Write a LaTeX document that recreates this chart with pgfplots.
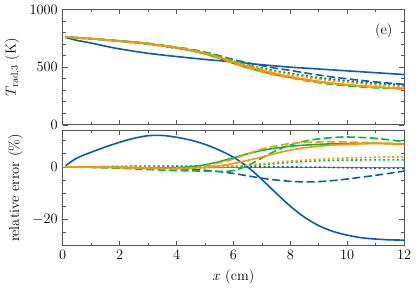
\documentclass[border=0pt]{standalone}
\usepackage{pgfplots}
\usepackage{pgfplotstable}
\pgfplotsset{compat=1.18}
\definecolor{cb}{HTML}{0C5DA5}
\definecolor{cg}{HTML}{00B945}
\definecolor{co}{HTML}{FF9500}
\definecolor{ax}{HTML}{555555}
\pgfplotstableread{
x bs
0.1 758
0.5 732
1 709
1.5 682
2 658
3 620
4 592
5 567
6 545
7 521
8 500
9 484
10 468
11 452
12 436
}\topbs
\pgfplotstableread{
x bd bo gs gd go os od oo
0.1 762 762 762 762 762 762 762 762
1 746 745 747 747 746 747 747 746
2 726 724 726 729 726 726 727 725
3 703 698 703 707 701 703 704 701
4 670 663 667 674 667 669 670 667
4.5 651 643 644 655 647 648 648 647
5 628 618 615 630 622 621 618 621
5.5 599 587 576 598 589 586 579 588
6 566 551 533 560 552 545 535 550
6.5 538 519 494 517 518 507 494 516
7 513 492 461 475 488 473 459 486
7.5 490 467 433 438 461 443 430 459
8 472 447 412 409 439 418 407 437
8.5 451 427 392 385 418 396 387 416
9 432 409 374 365 400 377 370 397
9.5 414 395 359 350 384 361 356 381
10 399 382 347 338 371 348 345 368
11 372 362 328 321 350 328 327 347
12 351 347 315 312 336 315 315 332
}\toprest
\pgfplotstableread{
x bs
0.1 0.5
0.5 3.4
1 5.6
1.5 7.6
2 9.4
2.5 10.9
3 11.9
3.5 12.0
4 11.3
4.5 10.2
5 8.6
5.5 6.4
6 3.7
6.5 0
7 -4.8
7.5 -10.0
8 -15.0
8.5 -19.2
9 -22.4
9.5 -24.6
10 -26.0
10.5 -27.0
11 -27.5
11.5 -27.8
12 -27.9
}\botbs
\pgfplotstableread{
x bd bo gs gd go os od oo
0.1 0 0 0 0 0 0 0 0
1 0 0.1 -0.1 -0.2 0 -0.1 -0.1 0
2 -0.2 0.2 -0.2 -0.5 -0.1 -0.2 -0.3 0
3 -0.4 0.3 -0.4 -1.0 -0.2 -0.4 -0.6 -0.1
4 -0.8 0.3 -0.3 -1.4 -0.3 -0.6 -0.8 -0.3
4.5 -1.0 0.3 0.1 -1.5 -0.3 -0.5 -0.5 -0.3
5 -1.3 0.3 0.8 -1.6 -0.3 -0.2 0.3 -0.2
5.5 -1.8 0.2 2.0 -1.7 -0.2 0.4 1.6 0
6 -2.5 0.2 3.5 -1.4 0 1.3 3.0 0.3
6.5 -3.4 0.1 5.0 0.5 0.4 2.5 5.0 0.7
7 -4.3 0 6.3 3.4 0.8 3.8 6.8 1.2
7.5 -5.0 0 7.2 6.2 1.3 5.2 8.0 1.7
8 -5.5 0 7.9 8.4 1.7 6.4 8.9 2.2
8.5 -5.7 -0.1 8.3 9.8 2.0 7.3 9.3 2.6
9 -5.6 -0.1 8.6 10.7 2.3 7.9 9.5 2.9
9.5 -5.2 -0.2 8.8 11.2 2.5 8.3 9.6 3.2
10 -4.6 -0.3 8.9 11.4 2.6 8.6 9.5 3.4
11 -3.2 -0.5 9.0 10.9 2.7 8.9 9.2 3.7
12 -1.6 -0.6 8.7 9.6 2.7 8.6 8.8 3.8
}\botrest
\tikzset{
  lw/.style={line width=1.6bp, smooth, line join=round},
  dsh/.style={dash pattern=on 8bp off 3.5bp},
  dot/.style={dash pattern=on 2bp off 2.6bp},
}
\pgfplotsset{
  myax/.style={
    scale only axis, width=341bp, height=115.3bp,
    xmin=0, xmax=12,
    axis line style={draw=ax, line width=0.8bp},
    every tick/.style={draw=ax, line width=0.7bp},
    tick align=inside,
    major tick length=5bp, minor tick length=3bp,
    xtick={0,2,...,12}, minor x tick num=1,
    scaled ticks=false,
    /pgf/number format/1000 sep={},
    tick label style={font=\fontsize{14.5}{17}\selectfont},
    label style={font=\fontsize{14.5}{17}\selectfont},
  }
}
\begin{document}
\fontsize{14.5}{17}\selectfont
\begin{tikzpicture}
\begin{axis}[myax, name=top,
  ymin=0, ymax=1000, ytick={0,500,1000}, minor y tick num=4,
  xticklabels={},
  ylabel={$T_{\mathrm{rad},3}$ (K)},
]
\addplot[cb, lw] table[x=x, y=bs] {\topbs};
\addplot[cb, lw, dsh] table[x=x, y=bd] {\toprest};
\addplot[cb, lw, dot] table[x=x, y=bo] {\toprest};
\addplot[cg, lw] table[x=x, y=gs] {\toprest};
\addplot[cg, lw, dsh] table[x=x, y=gd] {\toprest};
\addplot[cg, lw, dot] table[x=x, y=go] {\toprest};
\addplot[co, lw] table[x=x, y=os] {\toprest};
\addplot[co, lw, dsh] table[x=x, y=od] {\toprest};
\addplot[co, lw, dot] table[x=x, y=oo] {\toprest};
\node[font=\fontsize{14.5}{17}\selectfont] at (rel axis cs:0.94,0.815) {(e)};
\end{axis}
\begin{axis}[myax, at={(top.south west)}, anchor=north west, yshift=-5.3bp,
  ymin=-30, ymax=14, ytick={-40,-20,0,20}, minor y tick num=3,
  xlabel={$x$ (cm)},
  ylabel={relative error (\%)},
]
\addplot[gray, line width=0.8bp] coordinates {(0,0) (12,0)};
\addplot[cb, lw] table[x=x, y=bs] {\botbs};
\addplot[cb, lw, dsh] table[x=x, y=bd] {\botrest};
\addplot[cb, lw, dot] table[x=x, y=bo] {\botrest};
\addplot[cg, lw] table[x=x, y=gs] {\botrest};
\addplot[cg, lw, dsh] table[x=x, y=gd] {\botrest};
\addplot[cg, lw, dot] table[x=x, y=go] {\botrest};
\addplot[co, lw] table[x=x, y=os] {\botrest};
\addplot[co, lw, dsh] table[x=x, y=od] {\botrest};
\addplot[co, lw, dot] table[x=x, y=oo] {\botrest};
\end{axis}
\end{tikzpicture}
\end{document}
